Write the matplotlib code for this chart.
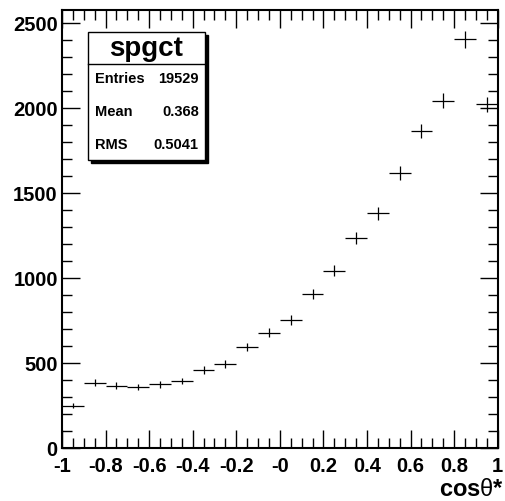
import numpy as np
import matplotlib
matplotlib.use("Agg")
import matplotlib.pyplot as plt
from matplotlib.patches import Rectangle
from matplotlib.ticker import MultipleLocator

plt.rcParams["font.family"] = ["Liberation Sans", "DejaVu Sans"]
plt.rcParams["font.weight"] = "bold"
plt.rcParams["mathtext.fontset"] = "custom"
plt.rcParams["mathtext.rm"] = "Liberation Sans:normal"
plt.rcParams["mathtext.bf"] = "Liberation Sans:bold"

# histogram contents, 20 bins on [-1, 1]
bin_edges = np.linspace(-1, 1, 21)
counts = [250, 386, 368, 359, 376, 396, 461, 496, 596, 679,
          755, 909, 1045, 1235, 1382, 1618, 1866, 2045, 2406, 2024]
xtick_vals = [-1, -0.8, -0.6, -0.4, -0.2, 0, 0.2, 0.4, 0.6, 0.8, 1]
xtick_labels = ["-1", "-0.8", "-0.6", "-0.4", "-0.2", "-0", "0.2", "0.4", "0.6", "0.8", "1"]
ytick_vals = [0, 500, 1000, 1500, 2000, 2500]
stats_names = ["Entries", "Mean", "RMS"]
stats_vals = ["19529", "0.368", "0.5041"]

centers = 0.5 * (bin_edges[:-1] + bin_edges[1:])
half_w = 0.5 * np.diff(bin_edges)
counts = np.array(counts, dtype=float)

fig = plt.figure(figsize=(5.06, 5.01), dpi=100)
ax = fig.add_axes([0.1225, 0.1052, 0.8611, 0.8748])

ax.errorbar(centers, counts, xerr=half_w, yerr=np.sqrt(counts),
            fmt="none", ecolor="black", elinewidth=0.9, capsize=0)

ax.set_xlim(-1, 1)
ax.set_ylim(0, 2578)
ax.set_xticks(xtick_vals)
ax.set_xticklabels(xtick_labels)
ax.set_yticks(ytick_vals)
ax.xaxis.set_minor_locator(MultipleLocator(0.05))
ax.yaxis.set_minor_locator(MultipleLocator(100))
ax.tick_params(which="both", direction="in", top=True, right=True,
               labelsize=14.5, width=1.0)
ax.tick_params(which="major", length=13)
ax.tick_params(which="minor", length=7)
ax.tick_params(axis="x", pad=6)
ax.tick_params(axis="y", pad=3)
for s in ax.spines.values():
    s.set_linewidth(1.5)

# x title, bottom right under the axis
fig.text(504 / 506, 1 - 496 / 501,
         "$\\mathbf{cos}\\mathrm{\\theta}\\mathbf{*}$",
         ha="right", va="baseline", fontsize=17)

# stats box
bx0, bx1, by0, by1 = 0.0597, 0.328, 0.658, 0.950
ax.add_patch(Rectangle((bx0 + 0.006, by0 - 0.006), bx1 - bx0, by1 - by0,
                       transform=ax.transAxes, facecolor="black",
                       edgecolor="black", zorder=5))
ax.add_patch(Rectangle((bx0, by0), bx1 - bx0, by1 - by0,
                       transform=ax.transAxes, facecolor="white",
                       edgecolor="black", linewidth=1.0, zorder=6))
ax.plot([bx0, bx1], [0.877, 0.877], transform=ax.transAxes,
        color="black", linewidth=1.0, zorder=7)
ax.text((bx0 + bx1) / 2, 0.912, "spgct", transform=ax.transAxes,
        ha="center", va="center", fontsize=20, fontweight="bold", zorder=7)
row_y = [0.842, 0.767, 0.692]
for name, val, yy in zip(stats_names, stats_vals, row_y):
    ax.text(bx0 + 0.017, yy, name, transform=ax.transAxes, ha="left",
            va="center", fontsize=10.5, fontweight="bold", zorder=7)
    ax.text(bx1 - 0.014, yy, val, transform=ax.transAxes, ha="right",
            va="center", fontsize=10.5, fontweight="bold", zorder=7)

fig.savefig("out.png", dpi=100)
